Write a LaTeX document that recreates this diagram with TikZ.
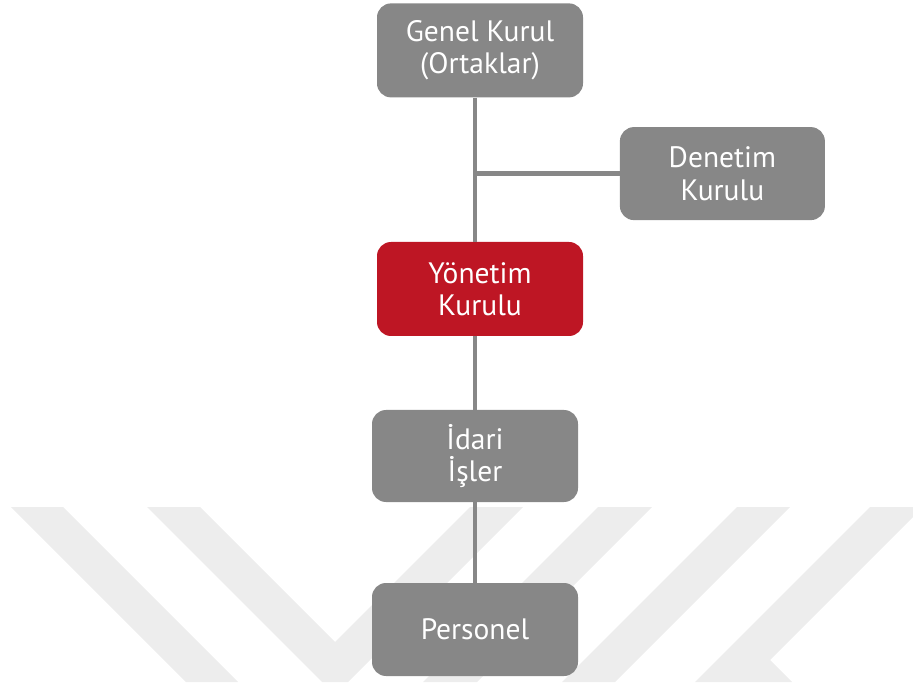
\documentclass[tikz,border=0pt]{standalone}
\usepackage{fontspec}
\setmainfont{PT Sans}
\usepackage{tikz}
\usetikzlibrary{shapes,positioning,calc}
\definecolor{kutugri}{RGB}{135,135,135}
\definecolor{yonkirmizi}{RGB}{190,22,36}
\definecolor{silik}{RGB}{237,237,237}
\tikzstyle{birim} = [rectangle, 
rounded corners=0.35cm, minimum width=5.15cm, minimum height=2.35cm, text centered, align=center, fill=kutugri, text=white, font=\fontsize{21pt}{23pt}\selectfont]
\tikzstyle{baglanti} = [draw=kutugri, line width=3.2pt]

\begin{document}
\begin{tikzpicture}
	\useasboundingbox (0,0) rectangle (22.825,17.05);
	\clip (0,0) rectangle (22.825,17.05);
	% silik arka plan seritleri
	\fill[silik] (0.275,4.375) -- (1.575,4.375) -- (5.95,0) -- (4.65,0) -- cycle;
	\fill[silik] (3.675,4.375) -- (5.0,4.375) -- (8.375,1.0) -- (11.75,4.375) -- (13.075,4.375) -- (8.7,0) -- (8.05,0) -- cycle;
	\fill[silik] (14.95,4.375) -- (16.3,4.375) -- (11.925,0) -- (10.575,0) -- cycle;
	\fill[silik] (18.425,4.375) -- (19.75,4.375) -- (15.375,0) -- (14.05,0) -- cycle;
	\fill[silik] (21.75,4.375) -- (23.075,4.375) -- (19.25,0.55) -- (19.8,0) -- (17.375,0) -- cycle;
	% birimler
	\node (genel) at (12.0,15.79) [birim] {Genel Kurul\\(Ortaklar)};
	\node (denetim) at (18.06,12.71) [birim, minimum width=5.125cm, minimum height=2.325cm] {Denetim\\Kurulu};
	\node (yonetim) at (12.0,9.825) [birim, fill=yonkirmizi] {Yönetim\\Kurulu};
	\node (idari) at (11.875,5.65) [birim, minimum height=2.3cm] {İdari\\İşler};
	\node (personel) at (11.875,1.3125) [birim, minimum height=2.325cm] {Personel};
	% baglantilar
	\draw[baglanti] (genel.south -| idari) -- (yonetim.north -| idari);
	\draw[baglanti] (denetim.west) -- (denetim.west -| idari);
	\draw[baglanti] (yonetim.south -| idari) -- (idari);
	\draw[baglanti] (idari) -- (personel);
\end{tikzpicture}
\end{document}
